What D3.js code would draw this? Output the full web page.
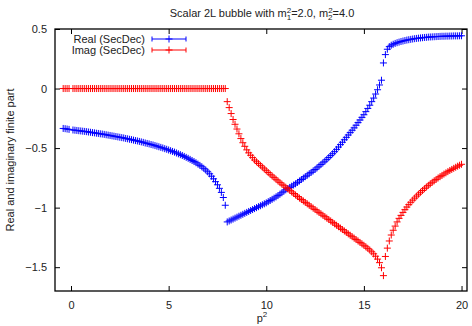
<!DOCTYPE html>
<html>
<head>
<meta charset="utf-8">
<script src="https://cdn.jsdelivr.net/npm/d3@7/dist/d3.min.js"></script>
<style>
  body { margin: 0; background: #fff; }
  text { font-family: "Liberation Sans", Arial, sans-serif; fill: #222; }
</style>
</head>
<body>
<svg id="chart" width="472" height="326"></svg>
<script>
// sample grid: p^2 in steps of 0.1 (p^2 = 0 is missing in the data)
const p2Below = d3.range(-4, 80).filter(i => i !== 0).map(i => i / 10); // -0.4 .. 7.9
const p2Mid = d3.range(80, 160).map(i => i / 10);                       // 8.0 .. 15.9
const p2Above = d3.range(160, 201).map(i => i / 10);                    // 16.0 .. 20.0

const realBelow = [
  -0.335, -0.337, -0.340, -0.343,
  -0.348, -0.350, -0.352, -0.354, -0.356, -0.358, -0.360, -0.362, -0.365, -0.367,
  -0.370, -0.372, -0.375, -0.377, -0.380, -0.382, -0.385, -0.388, -0.391, -0.394,
  -0.397, -0.400, -0.403, -0.406, -0.409, -0.412, -0.415, -0.419, -0.422, -0.426,
  -0.429, -0.433, -0.437, -0.440, -0.444, -0.448, -0.452, -0.457, -0.461, -0.465,
  -0.470, -0.474, -0.479, -0.484, -0.489, -0.494, -0.499, -0.505, -0.510, -0.516,
  -0.522, -0.528, -0.534, -0.541, -0.548, -0.555, -0.562, -0.570, -0.578, -0.586,
  -0.595, -0.604, -0.613, -0.623, -0.634, -0.645, -0.657, -0.670, -0.684, -0.699,
  -0.716, -0.736, -0.758, -0.782, -0.808, -0.838, -0.872, -0.915, -0.980
];
const realMid = [
  -1.120, -1.112, -1.104, -1.096, -1.088, -1.080, -1.072, -1.064, -1.056, -1.048,
  -1.040, -1.032, -1.024, -1.016, -1.008, -1.000, -0.992, -0.984, -0.976, -0.968,
  -0.960, -0.950, -0.940, -0.930, -0.920, -0.910, -0.899, -0.887, -0.875, -0.862,
  -0.850, -0.840, -0.830, -0.820, -0.810, -0.800, -0.788, -0.776, -0.764, -0.752,
  -0.740, -0.728, -0.716, -0.704, -0.692, -0.680, -0.666, -0.652, -0.638, -0.624,
  -0.610, -0.595, -0.579, -0.563, -0.547, -0.530, -0.511, -0.491, -0.471, -0.451,
  -0.430, -0.410, -0.390, -0.370, -0.350, -0.330, -0.308, -0.286, -0.264, -0.242,
  -0.220, -0.194, -0.167, -0.140, -0.110, -0.080, -0.046, -0.010, 0.030, 0.070
];
const realAbove = [
  0.215, 0.285, 0.330, 0.352, 0.364, 0.372, 0.379, 0.385, 0.390, 0.395,
  0.399, 0.403, 0.407, 0.410, 0.413, 0.416, 0.419, 0.421, 0.423, 0.425,
  0.427, 0.429, 0.430, 0.432, 0.433, 0.434, 0.435, 0.436, 0.437, 0.438,
  0.439, 0.439, 0.440, 0.440, 0.441, 0.441, 0.442, 0.442, 0.442, 0.443, 0.443
];

const imagBelow = new Array(83).fill(0); // imaginary part vanishes below threshold
const imagMid = [
  -0.110, -0.160, -0.210, -0.260, -0.300, -0.340, -0.380, -0.420, -0.455, -0.485,
  -0.515, -0.540, -0.560, -0.580, -0.600, -0.615, -0.630, -0.645, -0.660, -0.675,
  -0.690, -0.705, -0.720, -0.734, -0.748, -0.762, -0.776, -0.790, -0.803, -0.816,
  -0.829, -0.842, -0.855, -0.868, -0.881, -0.894, -0.907, -0.920, -0.932, -0.944,
  -0.956, -0.968, -0.980, -0.992, -1.004, -1.016, -1.028, -1.040, -1.052, -1.064,
  -1.076, -1.088, -1.100, -1.112, -1.124, -1.136, -1.148, -1.160, -1.172, -1.184,
  -1.196, -1.208, -1.220, -1.232, -1.244, -1.256, -1.268, -1.280, -1.292, -1.304,
  -1.316, -1.329, -1.342, -1.356, -1.371, -1.388, -1.408, -1.432, -1.462, -1.505
];
const imagAbove = [
  -1.571, -1.410, -1.340, -1.280, -1.230, -1.190, -1.155, -1.120, -1.090, -1.065,
  -1.040, -1.017, -0.995, -0.975, -0.955, -0.937, -0.920, -0.903, -0.887, -0.871,
  -0.856, -0.841, -0.827, -0.813, -0.800, -0.787, -0.775, -0.763, -0.751, -0.740,
  -0.729, -0.718, -0.708, -0.698, -0.688, -0.679, -0.670, -0.661, -0.652, -0.644, -0.636
];

const xTicks = [0, 5, 10, 15, 20];
const yTicks = [-1.5, -1, -0.5, 0, 0.5];

const p2 = [...p2Below, ...p2Mid, ...p2Above];
const series = [
  { name: 'Real (SecDec)', color: '#0000ff', values: [...realBelow, ...realMid, ...realAbove] },
  { name: 'Imag (SecDec)', color: '#ff0000', values: [...imagBelow, ...imagMid, ...imagAbove] },
];

const margin = { top: 29, right: 5, bottom: 35, left: 55 };
const width = 472, height = 326;

const svg = d3.select('#chart');

const x = d3.scaleLinear()
  .domain([-0.82, 20.28])
  .range([margin.left, width - margin.right]);
const y = d3.scaleLinear()
  .domain([-1.7, 0.5])
  .range([height - margin.bottom, margin.top]);

const tickLen = 5;

// ticks (inward, mirrored like gnuplot)
const axisB = d3.axisBottom(x).tickValues(xTicks).tickSizeInner(-tickLen).tickSizeOuter(0).tickPadding(10);
const axisT = d3.axisTop(x).tickValues(xTicks).tickSizeInner(-tickLen).tickSizeOuter(0).tickFormat('');
const axisL = d3.axisLeft(y).tickValues(yTicks).tickSizeInner(-tickLen).tickSizeOuter(0).tickPadding(8)
  .tickFormat(d => d3.format('')(d));
const axisR = d3.axisRight(y).tickValues(yTicks).tickSizeInner(-tickLen).tickSizeOuter(0).tickFormat('');

function styleAxis(g) {
  g.select('.domain').remove();
  g.selectAll('.tick line').attr('stroke', '#000');
  g.selectAll('.tick text').attr('font-size', 11).attr('fill', '#222')
    .attr('font-family', '"Liberation Sans", Arial, sans-serif');
}

svg.append('g').attr('transform', `translate(0,${height - margin.bottom})`).call(axisB).call(styleAxis);
svg.append('g').attr('transform', `translate(0,${margin.top})`).call(axisT).call(styleAxis);
svg.append('g').attr('transform', `translate(${margin.left},0)`).call(axisL).call(styleAxis);
svg.append('g').attr('transform', `translate(${width - margin.right},0)`).call(axisR).call(styleAxis);

// data points: '+' markers
const plus = 'M-3.5,0H3.5M0,-3.5V3.5';
const plot = svg.append('g');
series.forEach(s => {
  plot.append('g')
    .selectAll('path')
    .data(s.values.map((v, i) => [p2[i], v]))
    .join('path')
    .attr('d', plus)
    .attr('transform', d => `translate(${x(d[0])},${y(d[1])})`)
    .attr('stroke', s.color)
    .attr('stroke-width', 1)
    .attr('fill', 'none');
});

// border
svg.append('rect')
  .attr('x', margin.left)
  .attr('y', margin.top)
  .attr('width', width - margin.left - margin.right)
  .attr('height', height - margin.top - margin.bottom)
  .attr('fill', 'none')
  .attr('stroke', '#000')
  .attr('stroke-width', 1.3);

// legend
const legend = svg.append('g');
series.forEach((s, i) => {
  const ly = 39 + i * 11;
  legend.append('text')
    .attr('x', 145).attr('y', ly + 4)
    .attr('text-anchor', 'end')
    .attr('font-size', 11)
    .text(s.name);
  const lg = legend.append('g').attr('stroke', s.color).attr('stroke-width', 1);
  lg.append('path').attr('d', `M152,${ly}H186M152,${ly - 2.5}V${ly + 2.5}M186,${ly - 2.5}V${ly + 2.5}`);
  lg.append('path').attr('d', plus).attr('transform', `translate(169,${ly})`);
});

// title
const title = svg.append('text')
  .attr('x', 262).attr('y', 17)
  .attr('text-anchor', 'middle')
  .attr('font-size', 11);
title.append('tspan').text('Scalar 2L bubble with m');
title.append('tspan').attr('font-size', 8).attr('dy', -4).text('2');
title.append('tspan').attr('font-size', 8).attr('dx', -4.5).attr('dy', 7).text('1');
title.append('tspan').attr('dy', -3).text('=2.0, m');
title.append('tspan').attr('font-size', 8).attr('dy', -4).text('2');
title.append('tspan').attr('font-size', 8).attr('dx', -4.5).attr('dy', 7).text('2');
title.append('tspan').attr('dy', -3).text('=4.0');

// axis labels
const xl = svg.append('text')
  .attr('x', 262).attr('y', 322)
  .attr('text-anchor', 'middle')
  .attr('font-size', 11);
xl.append('tspan').text('p');
xl.append('tspan').attr('font-size', 8).attr('dy', -5).text('2');

svg.append('text')
  .attr('transform', `translate(14,${(margin.top + height - margin.bottom) / 2}) rotate(-90)`)
  .attr('text-anchor', 'middle')
  .attr('font-size', 11)
  .text('Real and imaginary finite part');
</script>
</body>
</html>
